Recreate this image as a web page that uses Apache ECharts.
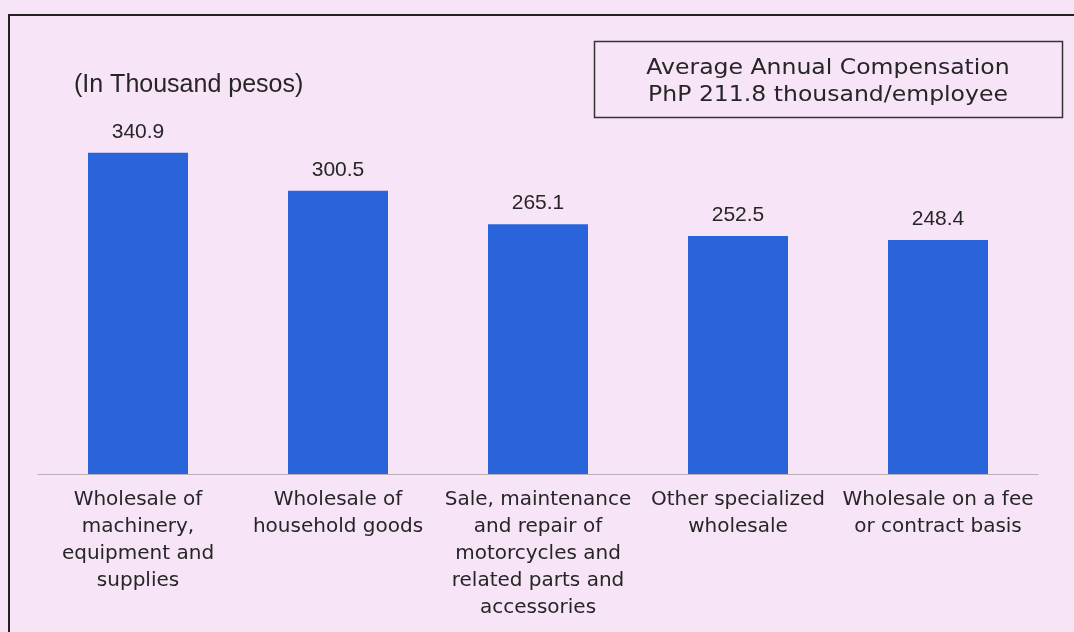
<!DOCTYPE html>
<html>
<head>
<meta charset="utf-8">
<script src="https://cdn.jsdelivr.net/npm/echarts@6/dist/echarts.min.js"></script>
<style>
html, body { margin: 0; padding: 0; background: #f7e4f7; }
#chart { width: 1074px; height: 632px; }
</style>
</head>
<body>
<div id="chart"></div>
<script>
var categories = [
    "Wholesale of\nmachinery,\nequipment and\nsupplies",
    "Wholesale of\nhousehold goods",
    "Sale, maintenance\nand repair of\nmotorcycles and\nrelated parts and\naccessories",
    "Other specialized\nwholesale",
    "Wholesale on a fee\nor contract basis"
];
var compensation = [340.9, 300.5, 265.1, 252.5, 248.4];
var unitNote = "(In Thousand pesos)";
var boxLines = ["Average Annual Compensation", "PhP 211.8 thousand/employee"];

var arial = "'Liberation Sans', Arial, sans-serif";
var wide = "'DejaVu Sans', Verdana, sans-serif";

var chart = echarts.init(document.getElementById("chart"));
var option = {
    backgroundColor: "#f7e4f7",
    textStyle: { fontFamily: arial },
    title: {
        text: unitNote,
        left: 69,
        top: 68,
        textStyle: { fontSize: 25, fontWeight: "normal", color: "#262626", fontFamily: arial }
    },
    grid: { left: 38, right: 36, top: 97, bottom: 158 },
    xAxis: {
        type: "category",
        data: categories,
        axisLine: { lineStyle: { color: "#b8b0b8", width: 1 } },
        axisTick: { show: false },
        axisLabel: {
            interval: 0,
            margin: 12,
            fontSize: 20,
            lineHeight: 27,
            fontFamily: wide,
            color: "#262626"
        }
    },
    yAxis: {
        type: "value",
        min: 0,
        max: 400,
        show: false
    },
    graphic: [{
        type: "polyline",
        shape: { points: [[9, 640], [9, 15], [1080, 15]] },
        style: { stroke: "#222", lineWidth: 2, fill: null }
    }, {
        type: "rect",
        shape: { x: 594.5, y: 41.5, width: 468, height: 76 },
        style: { stroke: "#333", lineWidth: 1.5, fill: null }
    }, {
        type: "text",
        x: 828,
        y: 82,
        scaleX: 1.07,
        style: {
            text: boxLines.join("\n"),
            font: "22px " + wide,
            lineHeight: 27,
            fill: "#262626",
            align: "center",
            verticalAlign: "middle"
        }
    }],
    series: [{
        type: "bar",
        data: compensation,
        barWidth: "50%",
        itemStyle: { color: "#2a64da" },
        label: {
            show: true,
            position: "top",
            distance: 10,
            fontSize: 21,
            fontFamily: arial,
            color: "#262626",
            formatter: function(p) { return p.value.toFixed(1); }
        }
    }]
};
chart.setOption(option);
</script>
</body>
</html>
